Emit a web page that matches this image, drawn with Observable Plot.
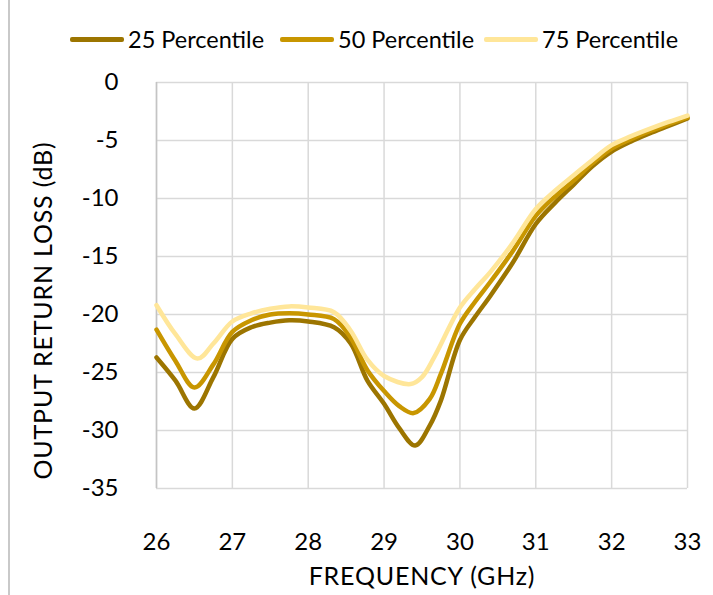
<!DOCTYPE html>
<html>
<head>
<meta charset="utf-8">
<script src="https://cdn.jsdelivr.net/npm/d3@7"></script>
<script src="https://cdn.jsdelivr.net/npm/@observablehq/plot@0.6"></script>
<style>
  body { margin: 0; background: #fff; font-family: Lato, "Open Sans", sans-serif; }
  #wrap { position: relative; width: 713px; height: 595px; overflow: hidden; background: #fff; }
  #border { position: absolute; left: 8px; top: 0; width: 2px; height: 595px; background: #c9c9c9; }
  #legend { position: relative; height: 60px; }
  .item { position: absolute; top: 25px; display: flex; align-items: center; font-size: 23.5px; color: #000; line-height: 28px; }
  .sw { width: 54px; height: 5px; margin-right: 4px; border-radius: 2px; }
  #chart svg { display: block; }
  #chart svg g[aria-label="text"] text { letter-spacing: 0.8px; }
</style>
</head>
<body>
<div id="wrap">
  <div id="border"></div>
  <div id="legend"></div>
  <div id="chart"></div>
</div>
<script>
const seriesNames = ["25 Percentile", "50 Percentile", "75 Percentile"];
const seriesColors = ["#9C7500", "#C89600", "#FFE699"];
const xTicks = [26, 27, 28, 29, 30, 31, 32, 33];
const yTicks = [0, -5, -10, -15, -20, -25, -30, -35];

// Frequency (GHz) sample points for each series
const freq25 = [26, 26.25, 26.5, 26.75, 27, 27.25, 27.5, 27.75, 28, 28.34, 28.56, 28.78, 29, 29.2, 29.41, 29.6, 29.75, 30, 30.2, 30.4, 30.7, 31, 31.25, 31.5, 31.75, 32, 32.25, 32.5, 32.75, 33];
const p25 = [-23.7, -25.7, -28.1, -25.4, -22.1, -21.1, -20.7, -20.5, -20.6, -21.1, -22.5, -25.7, -27.7, -29.8, -31.3, -29.6, -27.4, -22.2, -20.2, -18.4, -15.5, -12.2, -10.4, -8.8, -7.2, -5.95, -5.1, -4.4, -3.75, -3.1];

const freq50 = [26, 26.25, 26.5, 26.75, 27, 27.25, 27.5, 27.75, 28, 28.34, 28.56, 28.78, 29, 29.2, 29.39, 29.6, 29.75, 30, 30.2, 30.4, 30.7, 31, 31.25, 31.5, 31.75, 32, 32.25, 32.5, 32.75, 33];
const p50 = [-21.3, -24.0, -26.3, -24.3, -21.5, -20.5, -20.0, -19.9, -20.0, -20.4, -22.0, -24.8, -26.6, -27.9, -28.5, -27.3, -25.1, -20.8, -18.9, -17.2, -14.5, -11.5, -9.85, -8.45, -6.95, -5.7, -4.9, -4.2, -3.6, -3.0];

const freq75 = [26, 26.25, 26.54, 26.75, 27, 27.25, 27.5, 27.75, 28, 28.34, 28.56, 28.78, 29, 29.35, 29.5, 29.66, 30, 30.2, 30.4, 30.7, 31, 31.25, 31.5, 31.75, 32, 32.25, 32.5, 32.75, 33];
const p75 = [-19.2, -21.7, -23.8, -22.5, -20.6, -19.9, -19.5, -19.3, -19.4, -19.8, -21.4, -23.9, -25.3, -26.0, -25.4, -23.7, -19.4, -17.8, -16.35, -13.8, -10.9, -9.35, -8.0, -6.65, -5.4, -4.65, -4.0, -3.4, -2.85];

const data = [];
[[freq25, p25], [freq50, p50], [freq75, p75]].forEach(([f, v], i) => {
  f.forEach((x, j) => data.push({ freq: x, value: v[j], series: seriesNames[i] }));
});

// Legend
const legend = document.getElementById("legend");
const lefts = [70, 280, 484];
seriesNames.forEach((n, i) => {
  const it = document.createElement("div");
  it.className = "item";
  it.style.left = lefts[i] + "px";
  it.innerHTML = `<span class="sw" style="background:${seriesColors[i]}"></span><span>${n}</span>`;
  legend.appendChild(it);
});

const font = "Lato, 'Open Sans', sans-serif";
const chart = Plot.plot({
  width: 713,
  height: 535,
  marginTop: 22,
  marginBottom: 107,
  marginLeft: 156,
  marginRight: 26,
  style: { fontFamily: font, fontSize: "24px", color: "#000", background: "transparent" },
  x: { domain: [26, 33] },
  y: { domain: [-35, 0] },
  color: { domain: seriesNames, range: seriesColors },
  marks: [
    Plot.gridX(xTicks, { stroke: "#d9d9d9", strokeOpacity: 1, strokeWidth: 1.5 }),
    Plot.gridY(yTicks, { stroke: "#d9d9d9", strokeOpacity: 1, strokeWidth: 1.5 }),
    Plot.ruleX([26], { stroke: "#c4c4c4", strokeWidth: 1.5 }),
    Plot.axisX(xTicks, { tickSize: 0, tickPadding: 44, label: null, tickFormat: d => String(d), fontSize: 24 }),
    Plot.axisY(yTicks, { tickSize: 0, tickPadding: 38, label: null, tickFormat: d => String(d), fontSize: 24 }),
    Plot.line(data, { x: "freq", y: "value", stroke: "series", z: "series", strokeWidth: 4.5, curve: "catmull-rom" }),
    Plot.text(["FREQUENCY (GHz)"], { frameAnchor: "bottom", dy: 96, fontSize: 25, fill: "#000" }),
    Plot.text(["OUTPUT RETURN LOSS (dB)"], { frameAnchor: "left", textAnchor: "middle", dx: -113, dy: 25, rotate: -90, fontSize: 25, fill: "#000" })
  ]
});
document.getElementById("chart").appendChild(chart);
</script>
</body>
</html>
